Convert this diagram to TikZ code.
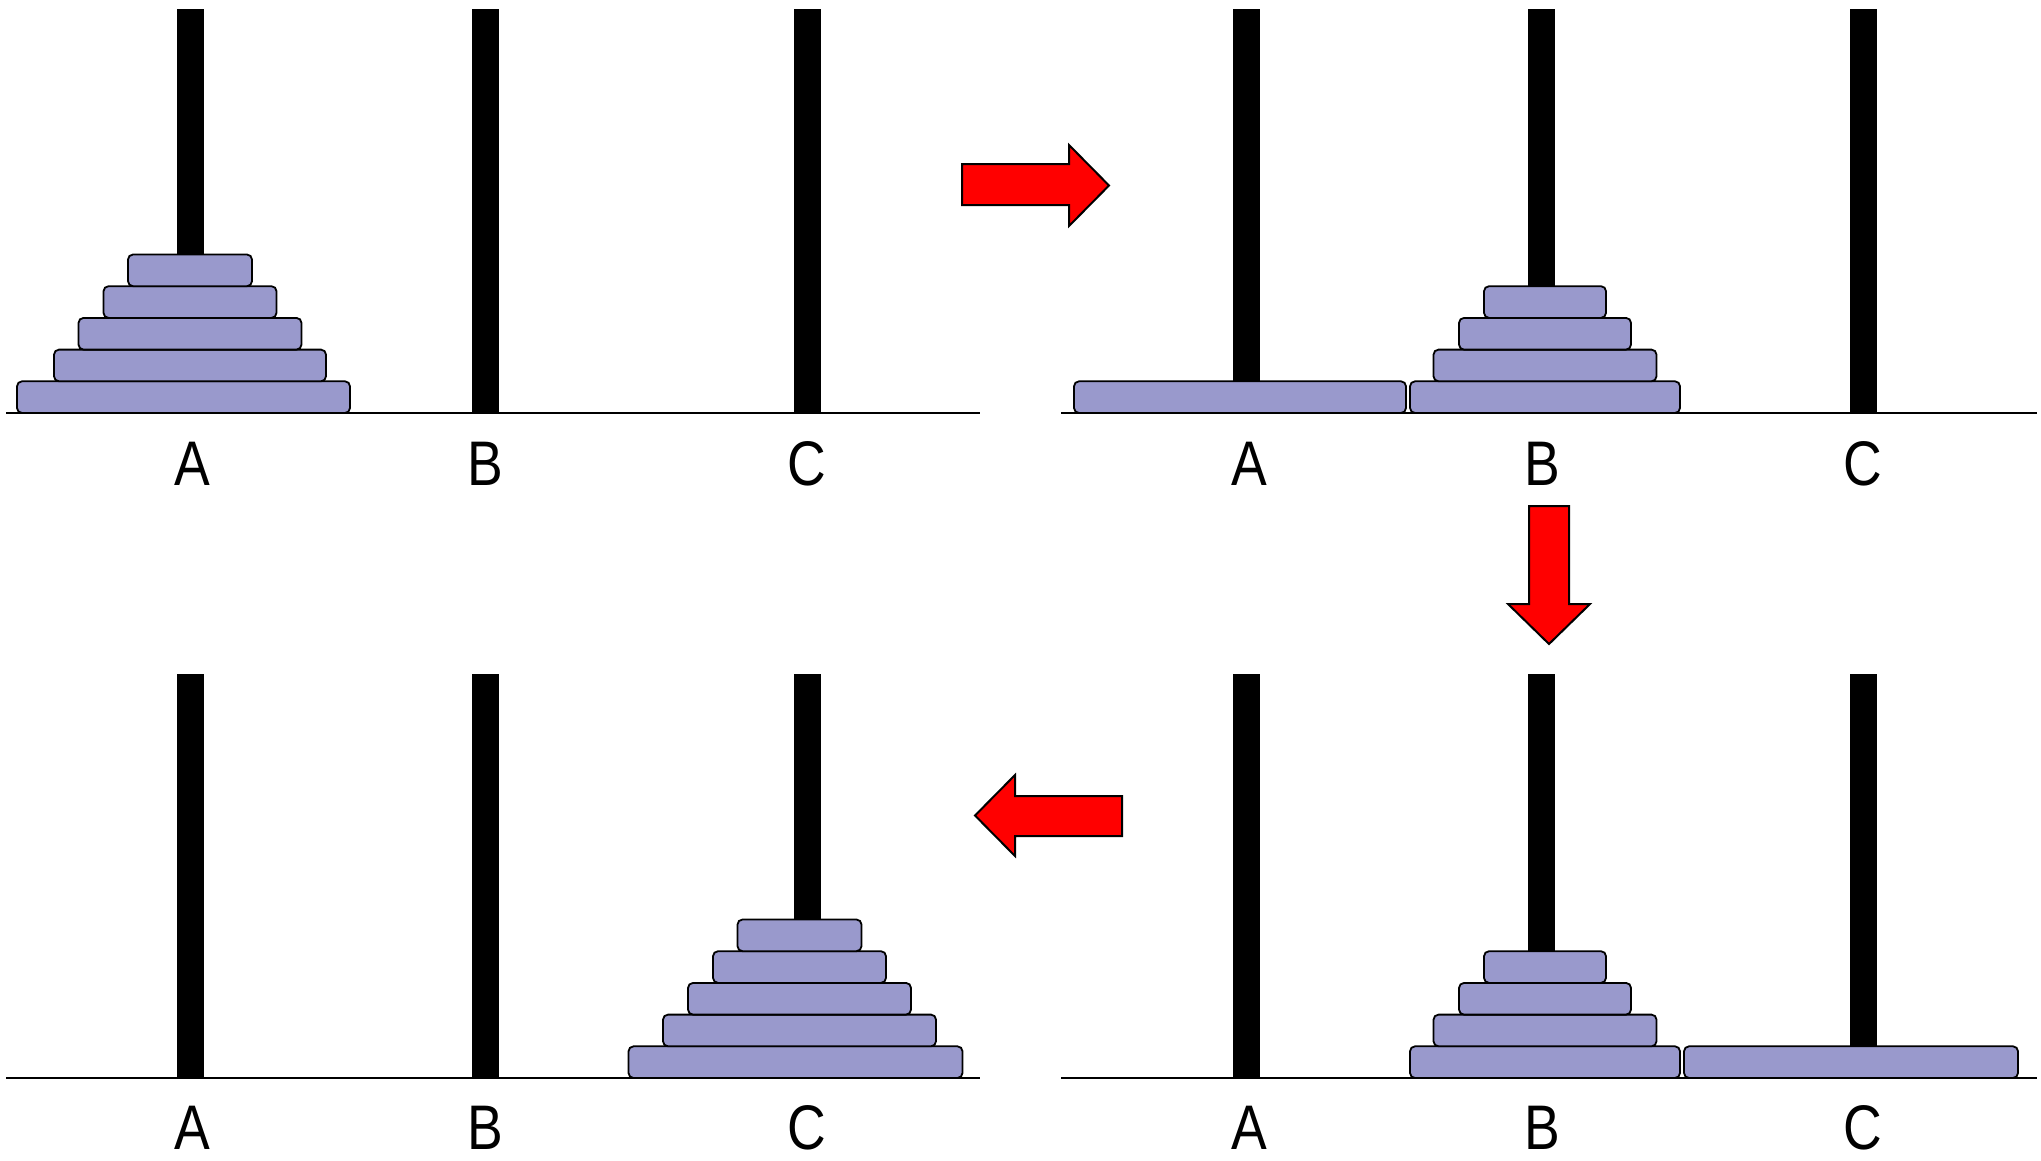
\documentclass[tikz,border=0pt]{standalone}
\usepackage{fontspec}
\setmainfont[FakeStretch=0.85]{Liberation Sans}
\begin{document}
\begin{tikzpicture}[x=1pt,y=-1pt,
  peg/.style={fill=black,draw=none},
  disc/.style={draw=black,fill=discblue,line width=1.8pt,rounded corners=5pt,inner sep=0pt,minimum height=31.7pt},
  ground/.style={line width=2pt,draw=black},
  lbl/.style={font=\fontsize{63}{66}\selectfont,inner sep=0pt},
  movearrow/.style={draw=black,fill=red,line width=2pt,line join=miter}]
\definecolor{discblue}{RGB}{153,153,204}
\useasboundingbox (0,0) rectangle (2041,1160);
% pegs
\foreach \px/\nm in {190/A,485.5/B,807.5/C}{
  \fill[peg] (\px-13.5,9) rectangle (\px+13.5,413);
  \fill[peg] (\px-13.5+1056,9) rectangle (\px+13.5+1056,413);
  \fill[peg] (\px-13.5,674) rectangle (\px+13.5,1078);
  \fill[peg] (\px-13.5+1056,674) rectangle (\px+13.5+1056,1078);
}
% top-left: all discs on A
\node[disc,minimum width=333pt] (tl5) at (183.5,397.15) {};
\node[disc,minimum width=272pt] (tl4) at (190,365.45) {};
\node[disc,minimum width=223pt] (tl3) at (190,333.75) {};
\node[disc,minimum width=173pt] (tl2) at (190,302.05) {};
\node[disc,minimum width=124pt] (tl1) at (190,270.35) {};
% top-right
\node[disc,minimum width=332pt] (tr5) at (1240,397.15) {};
\node[disc,minimum width=270pt] (tr4) at (1545,397.15) {};
\node[disc,minimum width=223pt] (tr3) at (1545,365.45) {};
\node[disc,minimum width=172pt] (tr2) at (1545,333.75) {};
\node[disc,minimum width=122pt] (tr1) at (1545,302.05) {};
% bottom-right
\node[disc,minimum width=334pt] (br5) at (1851,1062.15) {};
\node[disc,minimum width=270pt] (br4) at (1545,1062.15) {};
\node[disc,minimum width=223pt] (br3) at (1545,1030.45) {};
\node[disc,minimum width=172pt] (br2) at (1545,998.75) {};
\node[disc,minimum width=122pt] (br1) at (1545,967.05) {};
% bottom-left: all discs on C
\node[disc,minimum width=334pt] (bl5) at (795.5,1062.15) {};
\node[disc,minimum width=273pt] (bl4) at (799.5,1030.45) {};
\node[disc,minimum width=223pt] (bl3) at (799.5,998.75) {};
\node[disc,minimum width=173pt] (bl2) at (799.5,967.05) {};
\node[disc,minimum width=124pt] (bl1) at (799.5,935.35) {};
% ground lines
\draw[ground] (6,413) -- (980,413);
\draw[ground] (1061,413) -- (2037,413);
\draw[ground] (6,1078) -- (980,1078);
\draw[ground] (1061,1078) -- (2037,1078);
% labels
\node[lbl] (tlA) at (192,464) {A};
\node[lbl] (tlB) at (485,464) {B};
\node[lbl] (tlC) at (807,464) {C};
\node[lbl] (trA) at (1249,464) {A};
\node[lbl] (trB) at (1542,464) {B};
\node[lbl] (trC) at (1863,464) {C};
\node[lbl] (blA) at (192,1128) {A};
\node[lbl] (blB) at (485,1128) {B};
\node[lbl] (blC) at (807,1128) {C};
\node[lbl] (brA) at (1249,1128) {A};
\node[lbl] (brB) at (1542,1128) {B};
\node[lbl] (brC) at (1863,1128) {C};
% arrows
\draw[movearrow] (962,164) -- (1069,164) -- (1069,145) -- (1109,185.5) -- (1069,226) -- (1069,205) -- (962,205) -- cycle;
\draw[movearrow] (1529,506) -- (1569,506) -- (1569,604) -- (1590,604) -- (1549,644) -- (1508,604) -- (1529,604) -- cycle;
\draw[movearrow] (1122,796) -- (1015,796) -- (1015,775) -- (975,815.5) -- (1015,856) -- (1015,836) -- (1122,836) -- cycle;
\end{tikzpicture}
\end{document}
